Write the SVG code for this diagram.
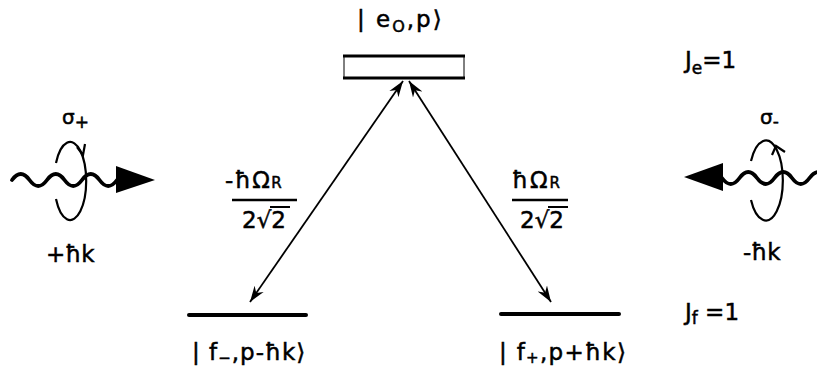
<svg xmlns="http://www.w3.org/2000/svg" width="817" height="377" viewBox="0 0 817 377">
<style>
text{font-family:"DejaVu Sans","Liberation Sans",Arial,sans-serif;fill:#000;stroke:#000;stroke-width:0.5}
.lbl{font-size:23px}
.lvl{stroke:#000;stroke-width:4;stroke-linecap:round;fill:none}
.wave{stroke:#000;stroke-width:3.8;fill:none;stroke-linecap:round}
.loop{stroke:#000;stroke-width:2.2;fill:none}
.tr{stroke:#000;stroke-width:1.8;fill:none;marker-start:url(#ah);marker-end:url(#ah)}
</style>
<defs>
<marker id="ah" markerUnits="userSpaceOnUse" markerWidth="18" markerHeight="12" refX="16" refY="5.5" orient="auto-start-reverse" viewBox="0 0 18 11">
<path d="M0,0 L16,5.5 L0,11 L5,5.5 z" fill="#000"/>
</marker>
</defs>
<g id="excited">
<line x1="343" y1="56" x2="465" y2="56" stroke="#000" stroke-width="3"/>
<line x1="343" y1="78" x2="465" y2="78" stroke="#000" stroke-width="3"/>
<line x1="344" y1="56" x2="344" y2="78" stroke="#000" stroke-width="1"/>
<line x1="464" y1="56" x2="464" y2="78" stroke="#000" stroke-width="1"/>
<text class="lbl" x="357" y="27" letter-spacing="2">| e<tspan font-size="16" dy="5">O</tspan><tspan dy="-5">,p⟩</tspan></text>
</g>
<g id="ground-minus">
<line class="lvl" x1="189" y1="315" x2="306" y2="315"/>
<text class="lbl" x="192" y="360" letter-spacing="1">| f<tspan font-size="15" dy="3">−</tspan><tspan dy="-3">,p-ħk⟩</tspan></text>
</g>
<g id="ground-plus">
<line class="lvl" x1="501" y1="314" x2="619" y2="314"/>
<text class="lbl" x="499" y="360" letter-spacing="1.3">| f<tspan font-size="15" dy="3">+</tspan><tspan dy="-3">,p+ħk⟩</tspan></text>
</g>
<g id="Je">
<text class="lbl" x="685" y="68">J<tspan font-size="17" dy="6">e</tspan><tspan dy="-6">=1</tspan></text>
</g>
<g id="Jf">
<text class="lbl" x="685" y="320">J<tspan font-size="17" dy="4">f</tspan><tspan dy="-4"> =1</tspan></text>
</g>
<g id="photon-left">
<path class="wave" d="M12,180 q8.75,-12 17.5,0 t17.5,0 t17.5,0 t17.5,0 t17.5,0 t17.5,0"/>
<path d="M116,166 L155,180 L116,193 z" fill="#000"/>
<path class="loop" d="M56,163 A16,39 0 1 1 56,199"/>
<path class="loop" d="M77,147 L83,155 L85,144"/>
<text x="62" y="124" font-size="20">σ<tspan font-size="17" dy="4">+</tspan></text>
<text class="lbl" x="46" y="262">+ħk</text>
</g>
<g id="photon-right">
<path class="wave" d="M722,178 q8.75,12 17.5,0 t17.5,0 t17.5,0 t17.5,0 t17.5,0 t17.5,0"/>
<path d="M723,163 L684,177 L723,191 z" fill="#000"/>
<path class="loop" d="M751,161 A17,40 0 1 1 751,200"/>
<path class="loop" d="M772,155 L776,146 L785,152"/>
<text x="760" y="124" font-size="20">σ<tspan font-size="17" dy="3">-</tspan></text>
<text class="lbl" x="743" y="260">-ħk</text>
</g>
<g id="connectors">
<line class="tr" x1="403" y1="81" x2="250" y2="302"/>
<line class="tr" x1="409" y1="81" x2="551" y2="302"/>
</g>
<g id="label-left">
<text class="lbl" x="225" y="188" letter-spacing="1.5">-ħΩ<tspan font-size="15">R</tspan></text>
<line x1="232" y1="200" x2="297" y2="200" stroke="#000" stroke-width="2.5"/>
<text class="lbl" x="242" y="228">2√2</text>
<line x1="270" y1="207" x2="290" y2="207" stroke="#000" stroke-width="2"/>
</g>
<g id="label-right">
<text class="lbl" x="512" y="188" letter-spacing="2">ħΩ<tspan font-size="15">R</tspan></text>
<line x1="512" y1="200" x2="568" y2="200" stroke="#000" stroke-width="2.5"/>
<text class="lbl" x="520" y="228">2√2</text>
<line x1="548" y1="207" x2="568" y2="207" stroke="#000" stroke-width="2"/>
</g>
</svg>
